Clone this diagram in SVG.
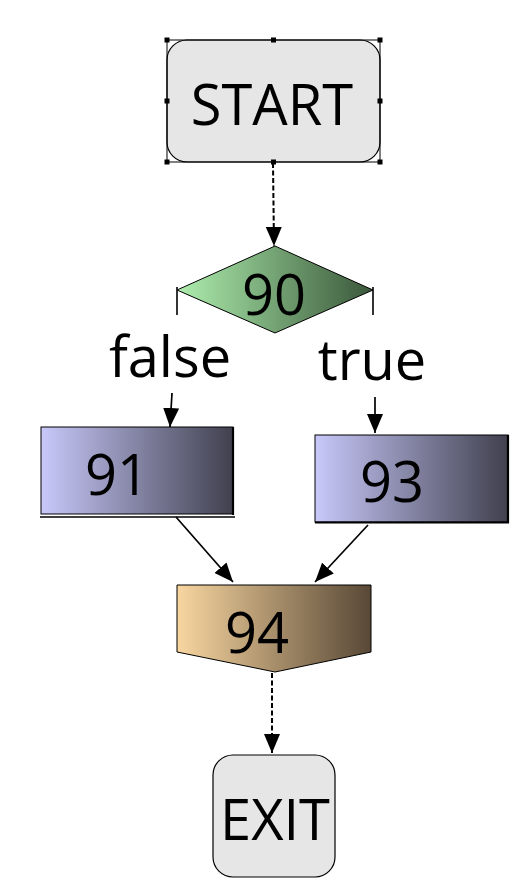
<svg xmlns="http://www.w3.org/2000/svg" width="519" height="889" viewBox="0 0 519 889">
<style>
text{font-family:"Open Sans","Noto Sans","DejaVu Sans",sans-serif;font-size:56px;fill:#000;text-anchor:middle}
.term{fill:#e6e6e6;stroke:#000;stroke-width:1.2}
.sel{fill:none;stroke:#000;stroke-width:1}
.h{fill:#000}
.edge{fill:none;stroke:#000;stroke-width:1.7}
.dash{stroke-dasharray:5,2.5;stroke-width:2}
.tick{stroke:#000;stroke-width:1.6}
</style>
<defs>
<linearGradient id="gGreen" x1="0" y1="0" x2="1" y2="0"><stop offset="0" stop-color="#aeeeae"/><stop offset="1" stop-color="#3a573a"/></linearGradient>
<linearGradient id="gBlue" x1="0" y1="0" x2="1" y2="0"><stop offset="0" stop-color="#c8c8fa"/><stop offset="1" stop-color="#40404e"/></linearGradient>
<linearGradient id="gTan" x1="0" y1="0" x2="1" y2="0"><stop offset="0" stop-color="#f8d6a0"/><stop offset="1" stop-color="#584836"/></linearGradient>
<marker id="arr" markerUnits="userSpaceOnUse" markerWidth="19" markerHeight="16" refX="19" refY="8" orient="auto" viewBox="0 0 19 16"><path d="M0,0 L19,8 L0,16 Z" fill="#000"/></marker>
</defs>
<g id="connectors">
<line class="edge dash" x1="273" y1="163" x2="274" y2="246" marker-end="url(#arr)"/>
<line class="tick" x1="177" y1="287" x2="177" y2="315"/>
<line class="tick" x1="373" y1="287" x2="373" y2="315"/>
<line class="edge" x1="172" y1="393" x2="170" y2="427" marker-end="url(#arr)"/>
<line class="edge" x1="375" y1="397" x2="375" y2="433" marker-end="url(#arr)"/>
<line class="edge" x1="176" y1="517" x2="233" y2="582" marker-end="url(#arr)"/>
<line class="edge" x1="368" y1="525" x2="315" y2="582" marker-end="url(#arr)"/>
<line class="edge dash" x1="272" y1="673" x2="272" y2="753" marker-end="url(#arr)"/>
</g>
<g id="start">
<rect class="term" x="167" y="40" width="213" height="122" rx="20"/>
<rect class="sel" x="167" y="40" width="213" height="122"/>
<rect class="h" x="164.5" y="37.5" width="5" height="5"/>
<rect class="h" x="271" y="37.5" width="5" height="5"/>
<rect class="h" x="377.5" y="37.5" width="5" height="5"/>
<rect class="h" x="164.5" y="98.5" width="5" height="5"/>
<rect class="h" x="377.5" y="98.5" width="5" height="5"/>
<rect class="h" x="164.5" y="159.5" width="5" height="5"/>
<rect class="h" x="271" y="159.5" width="5" height="5"/>
<rect class="h" x="377.5" y="159.5" width="5" height="5"/>
<text x="272" y="125">START</text>
</g>
<g id="n90">
<polygon points="275,246 373,290 275,333 177,290" fill="url(#gGreen)" stroke="#000" stroke-width="1"/>
<text x="274" y="315">90</text>
</g>
<g id="labels">
<text x="170" y="377">false</text>
<text x="372" y="380">true</text>
</g>
<g id="n91">
<rect x="41" y="427" width="192" height="87" fill="url(#gBlue)" stroke="#000" stroke-width="1"/>
<line x1="233" y1="427" x2="233" y2="515" stroke="#000" stroke-width="2.2"/>
<line x1="40" y1="517" x2="235" y2="517" stroke="#000" stroke-width="1.4"/>
<text x="117" y="495">91</text>
</g>
<g id="n93">
<rect x="315" y="435" width="193" height="87" fill="url(#gBlue)" stroke="#000" stroke-width="1"/>
<line x1="508" y1="435" x2="508" y2="523" stroke="#000" stroke-width="2.2"/>
<line x1="315" y1="522.5" x2="509" y2="522.5" stroke="#000" stroke-width="2"/>
<text x="392" y="502">93</text>
</g>
<g id="n94">
<polygon points="177,585 371,585 371,652 275,672 177,652" fill="url(#gTan)" stroke="#000" stroke-width="1"/>
<text x="257" y="653">94</text>
</g>
<g id="exit">
<rect class="term" x="213" y="755" width="122" height="122" rx="20"/>
<text x="275" y="840">EXIT</text>
</g>
</svg>
